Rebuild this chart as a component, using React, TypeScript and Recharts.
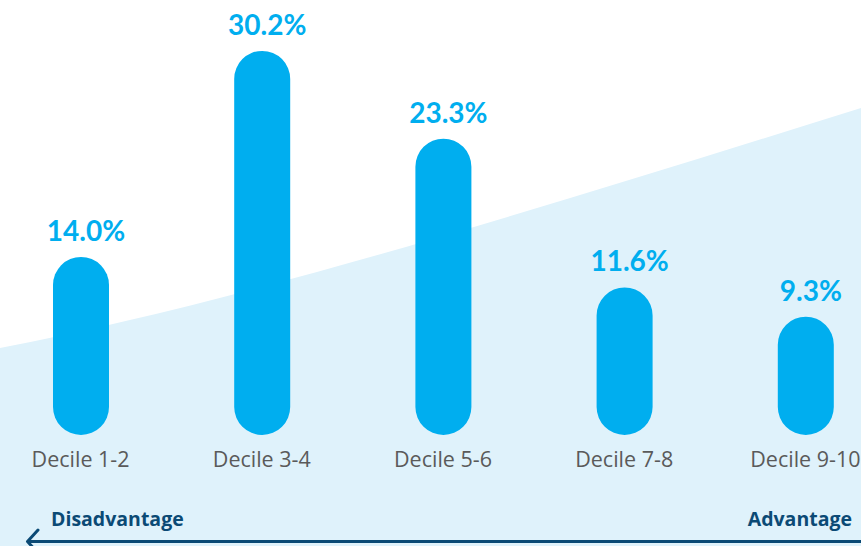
import { BarChart, Bar, XAxis, YAxis, LabelList } from "recharts";

const categories = ["Decile 1-2", "Decile 3-4", "Decile 5-6", "Decile 7-8", "Decile 9-10"];
const shares = [14.0, 30.2, 23.3, 11.6, 9.3];
const scaleLabels = ["Disadvantage", "Advantage"];

const BAR_BLUE = "#00AEEF";
const NAVY = "#0B4A75";
const BG_BLUE = "#DFF2FB";

const data = categories.map((name, i) => ({ name, value: shares[i] }));

/* eslint-disable @typescript-eslint/no-explicit-any */
const CategoryTick = ({ x, y, payload }: any) => (
  <text x={x} y={y + 32} textAnchor="middle" fill="#5a5a5a" fontSize={21.5} fontFamily="'Open Sans', sans-serif">
    {payload.value}
  </text>
);

const ValueLabel = ({ x, y, width, value }: any) => (
  <text
    x={x + width / 2 + 5}
    y={y - 16}
    textAnchor="middle"
    fill={BAR_BLUE}
    fontSize={28}
    fontWeight={700}
    fontFamily="Lato, sans-serif"
  >
    {Number(value).toFixed(1)}%
  </text>
);
/* eslint-enable @typescript-eslint/no-explicit-any */

export default function App() {
  return (
    <div style={{ position: "fixed", left: 0, top: 0, width: 861, height: 546, overflow: "hidden", background: "#fff" }}>
      {/* background wave + advantage scale */}
      <svg width={861} height={546} style={{ position: "absolute", left: 0, top: 0 }}>
        <path d="M0,348 C250,300 550,205 861,108 L861,546 L0,546 Z" fill={BG_BLUE} />
        <text x={51} y={526} fill={NAVY} fontSize={19.5} fontWeight={700} fontFamily="'Open Sans', sans-serif">
          {scaleLabels[0]}
        </text>
        <text x={852} y={526} textAnchor="end" fill={NAVY} fontSize={19.5} fontWeight={700} fontFamily="'Open Sans', sans-serif">
          {scaleLabels[1]}
        </text>
        <line x1={28} y1={541.5} x2={861} y2={541.5} stroke={NAVY} strokeWidth={3} />
        <polyline points="38,530 27.5,541.5 38,553" fill="none" stroke={NAVY} strokeWidth={3} strokeLinecap="round" strokeLinejoin="round" />
      </svg>
      <div style={{ position: "absolute", left: -10, top: 0 }}>
        <BarChart
          width={906}
          height={546}
          data={data}
          margin={{ top: 28, right: 0, bottom: 71, left: 0 }}
          barSize={56}
        >
          <XAxis
            dataKey="name"
            axisLine={false}
            tickLine={false}
            tickSize={0}
            tickMargin={0}
            height={40}
            interval={0}
            tick={<CategoryTick />}
          />
          <YAxis hide domain={[0, 32]} />
          <Bar dataKey="value" fill={BAR_BLUE} radius={[28, 28, 28, 28]} isAnimationActive={false}>
            <LabelList dataKey="value" content={<ValueLabel />} />
          </Bar>
        </BarChart>
      </div>
    </div>
  );
}
